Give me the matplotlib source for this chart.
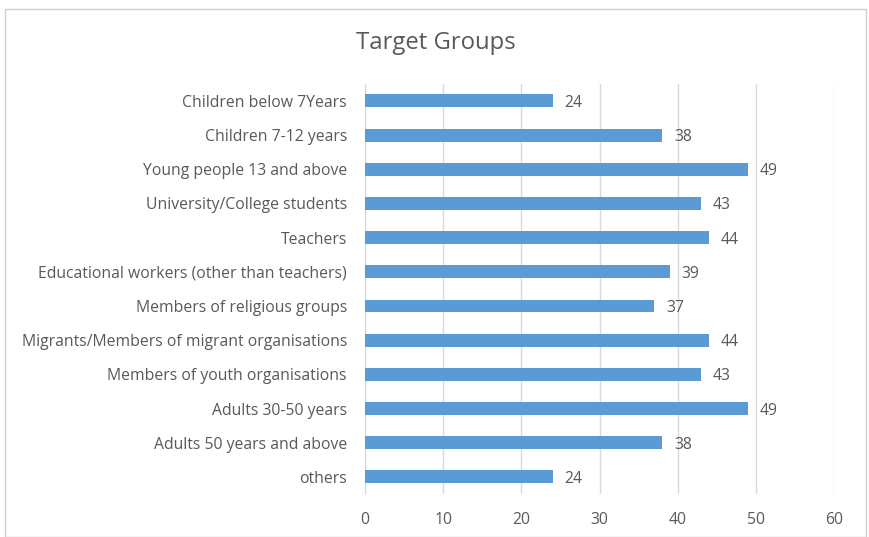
import matplotlib.pyplot as plt
from matplotlib.patches import Rectangle

plt.rcParams['font.family'] = ['Open Sans', 'DejaVu Sans']

groups = ['Children below 7Years', 'Children 7-12 years', 'Young people 13 and above',
          'University/College students', 'Teachers', 'Educational workers (other than teachers)',
          'Members of religious groups', 'Migrants/Members of migrant organisations',
          'Members of youth organisations', 'Adults 30-50 years', 'Adults 50 years and above',
          'others']
counts = [24, 38, 49, 43, 44, 39, 37, 44, 43, 49, 38, 24]
ticks = [0, 10, 20, 30, 40, 50, 60]

txt = '#595959'
fig = plt.figure(figsize=(8.69, 5.37), dpi=100)
fig.patches.append(Rectangle((5/869, 0), 861/869, 1 - 9/537, transform=fig.transFigure,
                             fill=False, edgecolor='#d0d0d0', linewidth=1))
ax = fig.add_axes([0.420, 0.080, 0.540, 0.764])

y = list(range(len(groups)))
ax.barh(y, counts, height=0.38, color='#5b9bd5', zorder=3)
for yi, v in zip(y, counts):
    ax.text(v + 1.5, yi + 0.06, str(v), va='center', ha='left', fontsize=11.3, color=txt)

ax.set_ylim(len(groups) - 0.5, -0.5)
ax.set_xlim(0, 60)
ax.set_yticks(y)
ax.set_yticklabels(groups, fontsize=11.3, color=txt)
ax.set_xticks(ticks)
ax.set_xticklabels([str(t) for t in ticks], fontsize=11.3, color=txt)
ax.tick_params(length=0, pad=13)
ax.tick_params(axis='x', pad=13)
ax.grid(axis='x', color='#d9d9d9', linewidth=1, zorder=0)
for s in ['top', 'right', 'bottom']:
    ax.spines[s].set_visible(False)
ax.spines['left'].set_color('#d9d9d9')

fig.text(0.5 * (5 + 866) / 869, 1 - 43 / 537, 'Target Groups', ha='center', va='center',
         fontsize=17.2, color=txt)

fig.savefig('out.png', dpi=100)
